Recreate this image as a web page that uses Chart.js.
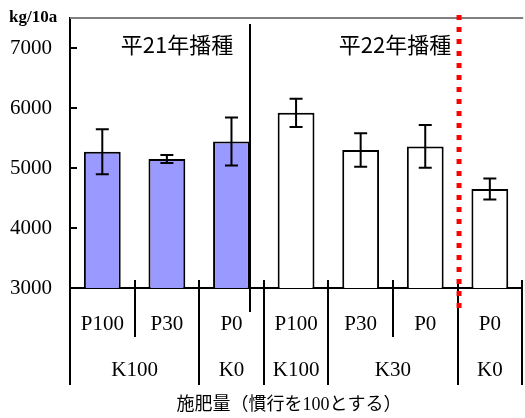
<!DOCTYPE html>
<html>
<head>
<meta charset="utf-8">
<script src="https://cdn.jsdelivr.net/npm/chart.js@4/dist/chart.umd.min.js"></script>
<style>
  body { margin: 0; background: #fff; }
</style>
</head>
<body>
<canvas id="yieldChart" width="525" height="418"></canvas>
<script>
// 収量 (kg/10a) と標準誤差
const pLabels = ['P100', 'P30', 'P0', 'P100', 'P30', 'P0', 'P0']
const yields = [5270, 5150, 5440, 5920, 5300, 5360, 4650]
const errors = [375, 65, 400, 235, 280, 355, 175]
const sowYear = ['平21年播種', '平21年播種', '平21年播種', '平22年播種', '平22年播種', '平22年播種', '平22年播種']
// K level groups below the P labels
const kLabels = ['K100', 'K0', 'K100', 'K30', 'K0']
const kSpans = [2, 1, 1, 2, 1]
const yTicks = [3000, 4000, 5000, 6000, 7000]
const yUnit = 'kg/10a'
const xTitle = '施肥量（慣行を100とする）'

const serif = '"Liberation Serif", "Times New Roman", serif'
const gothic = '"Noto Sans CJK JP", sans-serif'

// Draw error bars, group lines and labels on top of the chart
const overlay = {
    id: 'overlay',
    afterDatasetsDraw(chart) {
        const ctx = chart.ctx
        const x = chart.scales.x
        const y = chart.scales.y
        const area = chart.chartArea
        const bars = chart.getDatasetMeta(0).data
        const edge = i => x.getPixelForValue(i - 0.5)

        ctx.save()

        // gray frame line on top
        ctx.strokeStyle = '#808080'
        ctx.lineWidth = 2
        ctx.beginPath()
        ctx.moveTo(area.left, area.top)
        ctx.lineTo(area.right + 1, area.top)
        ctx.stroke()

        // inner tick marks on y axis
        ctx.strokeStyle = '#000'
        ctx.lineWidth = 2
        yTicks.forEach(v => {
            const py = y.getPixelForValue(v)
            ctx.beginPath()
            ctx.moveTo(area.left, py)
            ctx.lineTo(area.left + 7, py)
            ctx.stroke()
        })

        // error bars
        bars.forEach((bar, i) => {
            const hi = y.getPixelForValue(yields[i] + errors[i])
            const lo = y.getPixelForValue(yields[i] - errors[i])
            ctx.beginPath()
            ctx.moveTo(bar.x, hi)
            ctx.lineTo(bar.x, lo)
            ctx.moveTo(bar.x - 6.5, hi)
            ctx.lineTo(bar.x + 6.5, hi)
            ctx.moveTo(bar.x - 6.5, lo)
            ctx.lineTo(bar.x + 6.5, lo)
            ctx.stroke()
        })

        // lines under the axis: long ones between K groups, short ones between P levels
        ctx.lineWidth = 2
        let groupEdges = [0]
        kSpans.forEach(s => groupEdges.push(groupEdges[groupEdges.length - 1] + s))
        for (let i = 0; i <= pLabels.length; i++) {
            const px = Math.round(edge(i))
            const long = groupEdges.includes(i)
            ctx.beginPath()
            ctx.moveTo(px, area.bottom - 8)
            ctx.lineTo(px, long ? 385 : 337)
            ctx.stroke()
        }

        // line between sowing years
        const split = sowYear.indexOf('平22年播種') - 1
        const sx = Math.round(bars[split].x + bars[split].width / 2)
        ctx.beginPath()
        ctx.moveTo(sx, area.top + 6)
        ctx.lineTo(sx, area.bottom + 24)
        ctx.stroke()

        // red dotted line before the last bar
        ctx.strokeStyle = '#ff0000'
        ctx.lineWidth = 5
        ctx.setLineDash([5, 7])
        ctx.beginPath()
        const rx = edge(pLabels.length - 1) + 1.5
        ctx.moveTo(rx, area.top - 3)
        ctx.lineTo(rx, area.bottom + 20)
        ctx.stroke()
        ctx.setLineDash([])

        // K labels
        ctx.fillStyle = '#000'
        ctx.textAlign = 'center'
        ctx.textBaseline = 'middle'
        ctx.font = '21px ' + serif
        let start = 0
        kLabels.forEach((k, i) => {
            const cx = (edge(start) + edge(start + kSpans[i])) / 2
            ctx.fillText(k, cx, 370)
            start += kSpans[i]
        })

        // axis title
        ctx.font = '18px "Liberation Serif", ' + gothic
        ctx.fillText(xTitle, 289, 405)

        // unit
        ctx.font = 'bold 17px ' + serif
        ctx.textAlign = 'left'
        ctx.fillText(yUnit, 9, 18)

        // sowing year labels
        ctx.font = '22px ' + gothic
        ctx.textAlign = 'center'
        ctx.fillText('平21年播種', 177, 45)
        ctx.fillText('平22年播種', 395, 45)

        ctx.restore()
    }
}

let ctx = document.getElementById('yieldChart')
let chart = new Chart(ctx, {
    type: 'bar',
    data: {
        labels: pLabels,
        datasets: [{
            data: yields,
            backgroundColor: sowYear.map(s => s === '平21年播種' ? '#9999ff' : '#ffffff'),
            borderColor: '#000',
            borderWidth: 2,
            categoryPercentage: 1,
            barPercentage: 0.57
        }]
    },
    options: {
        responsive: false,
        devicePixelRatio: 1,
        animation: false,
        layout: {
            padding: { top: 18, right: 1, left: 0, bottom: 0 }
        },
        plugins: {
            legend: { display: false },
            tooltip: { enabled: false }
        },
        scales: {
            x: {
                offset: true,
                grid: { display: false, drawTicks: false },
                border: { display: true, color: '#000', width: 2 },
                ticks: {
                    color: '#000',
                    padding: 24,
                    font: { family: serif, size: 21 },
                    maxRotation: 0,
                    autoSkip: false
                },
                afterFit: scale => { scale.height = 130 }
            },
            y: {
                min: 3000,
                max: 7500,
                grid: { display: false, drawTicks: false },
                border: { display: true, color: '#000', width: 2 },
                ticks: {
                    color: '#000',
                    padding: 18,
                    font: { family: serif, size: 21 },
                    callback: v => String(v)
                },
                afterBuildTicks: scale => {
                    scale.ticks = yTicks.map(v => ({ value: v }))
                },
                afterFit: scale => {
                    scale.width = 70
                    scale.paddingTop = 0
                    scale.paddingBottom = 0
                }
            }
        }
    },
    plugins: [overlay]
})
</script>
</body>
</html>
